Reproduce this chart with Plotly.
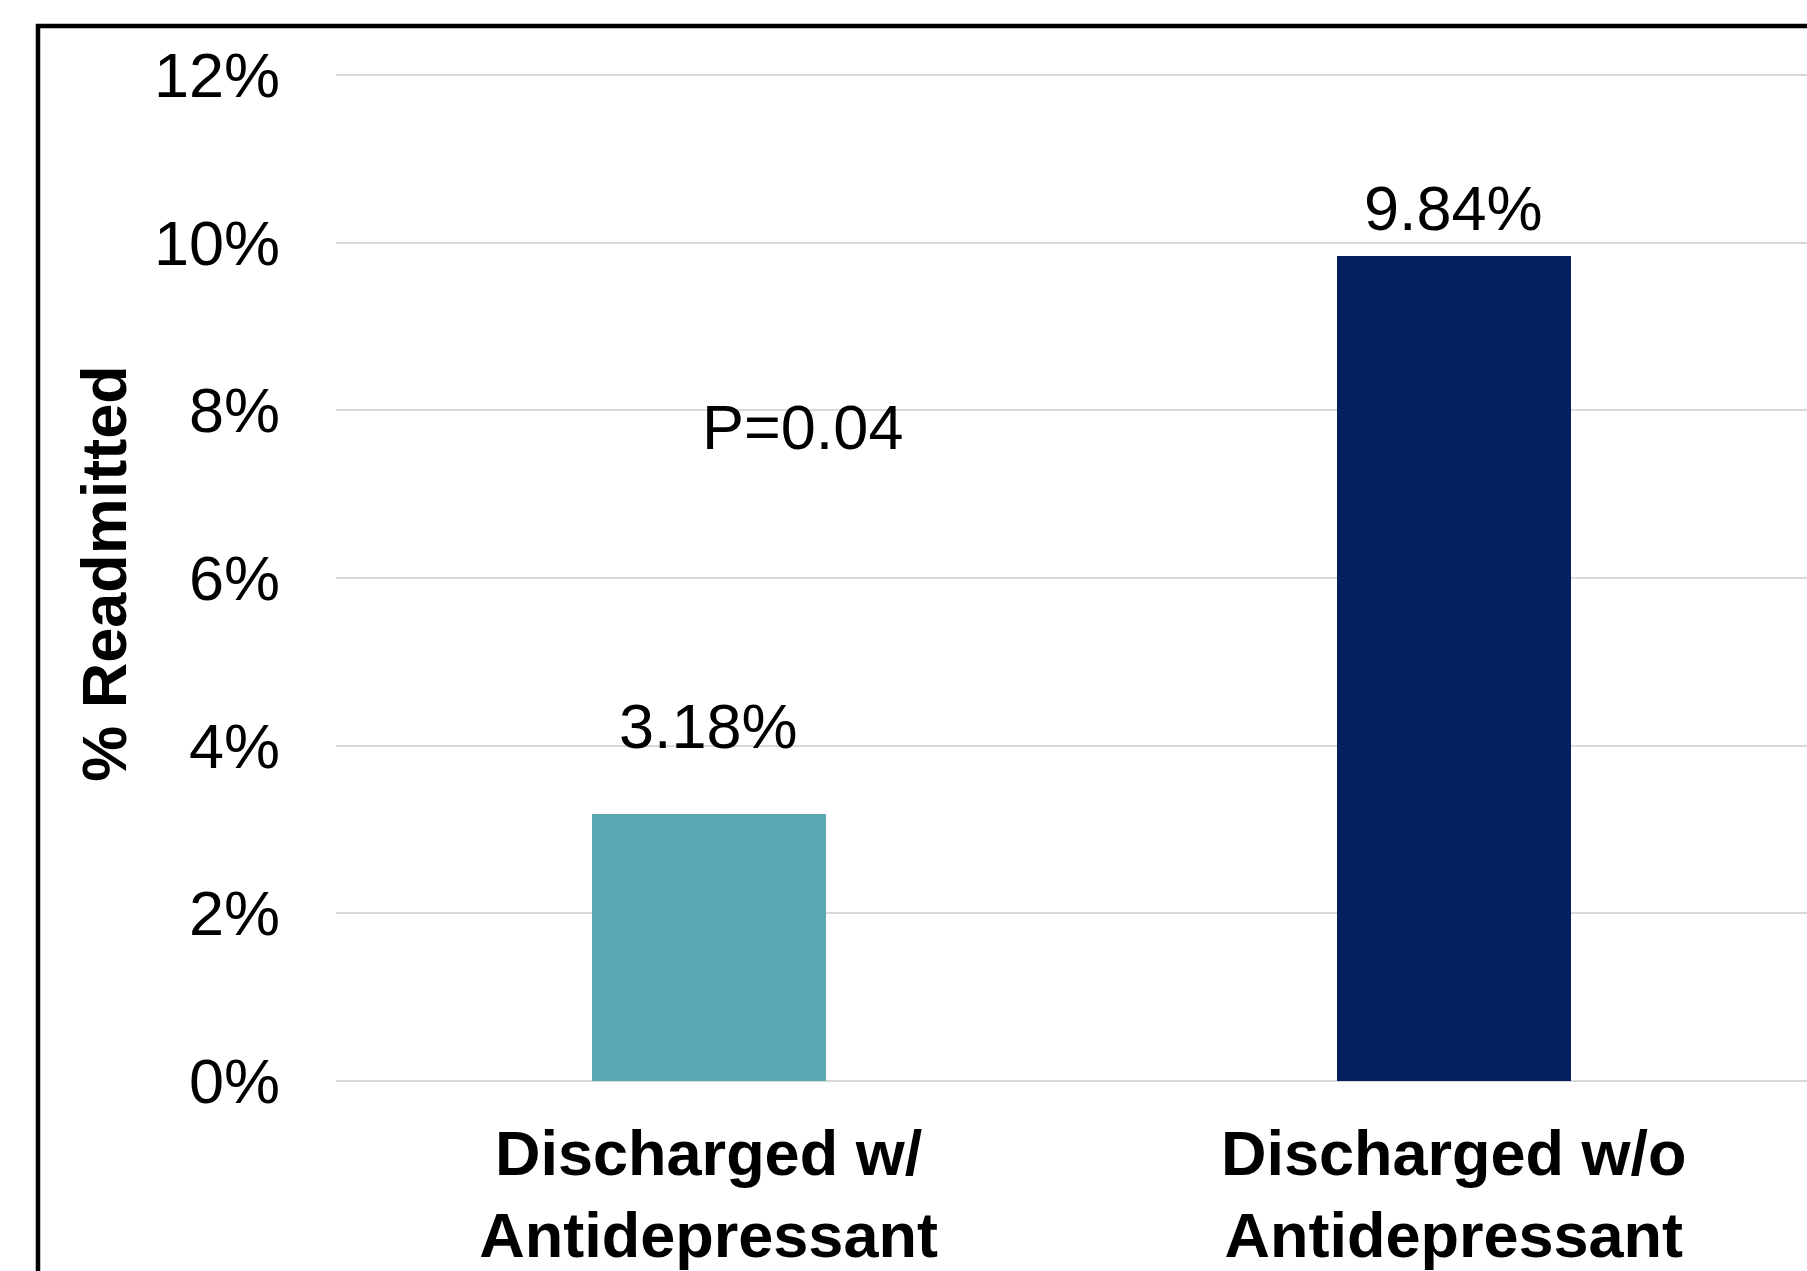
import plotly.graph_objects as go

categories = ["Discharged w/<br>Antidepressant", "Discharged w/o<br>Antidepressant"]
readmitted_pct = [3.18, 9.84]
bar_colors = ["#5BA8B5", "#03215F"]
y_ticks = [0, 2, 4, 6, 8, 10, 12]
y_tick_text = [f"{v}%" for v in y_ticks]
p_value_text = "P=0.04"
y_title = "% Readmitted"

W, H = 1807, 1271
L, R, T, B = 336, 0, 66, 190
FONT = "Liberation Sans, Arial, Helvetica, sans-serif"

# pixel scale: 12% at y=75, 0% at y=1081
px_per_unit = (1081 - 75) / 12.0
y_top = (H - B - T) / px_per_unit

fig = go.Figure()
fig.add_trace(go.Bar(
    x=categories, y=readmitted_pct,
    marker=dict(color=bar_colors, line=dict(width=0)),
    width=0.314, hoverinfo="skip", showlegend=False,
))

# data labels
label_shift = [88, 48]
for cat, v, s in zip(categories, readmitted_pct, label_shift):
    fig.add_annotation(x=cat, y=v, text=f"{v:.2f}%", showarrow=False,
                       yanchor="middle", yshift=s,
                       font=dict(family=FONT, size=63, color="black"))

fig.add_annotation(x=0.126, y=7.8, xref="x", yref="y", text=p_value_text,
                   showarrow=False, yanchor="middle", xanchor="center",
                   font=dict(family=FONT, size=63, color="black"))

pw = W - L - R
ph = H - T - B
def px_x(p):
    return (p - L) / pw
def px_y(p):
    return (H - B - p) / ph

fig.add_shape(type="rect", xref="paper", yref="paper",
              x0=px_x(38), x1=px_x(1900), y0=px_y(1400), y1=px_y(26),
              line=dict(color="black", width=4.5), fillcolor="rgba(0,0,0,0)",
              layer="above")

fig.update_layout(
    width=W, height=H,
    margin=dict(l=L, r=R, t=T, b=B, pad=0),
    paper_bgcolor="white", plot_bgcolor="white",
    font=dict(family=FONT, color="black"),
    bargap=0,
)
fig.update_xaxes(
    range=[-0.5, 1.474], showgrid=False, showline=False, zeroline=False,
    ticks="", tickfont=dict(family=FONT, size=63, color="black", weight="bold"),
    ticklabelstandoff=30,
)
fig.update_yaxes(
    range=[0, y_top], tickvals=y_ticks, ticktext=y_tick_text,
    showgrid=True, gridcolor="#D9D9D9", gridwidth=2,
    zeroline=True, zerolinecolor="#D9D9D9", zerolinewidth=2,
    showline=False, ticks="",
    tickfont=dict(family=FONT, size=63, color="black"),
    ticklabelstandoff=55,
    title=dict(text=y_title, standoff=6,
               font=dict(family=FONT, size=63, color="black", weight="bold")),
)

fig.write_html("out.html", config={"displayModeBar": False},
               post_script="document.body.style.margin='0';")
